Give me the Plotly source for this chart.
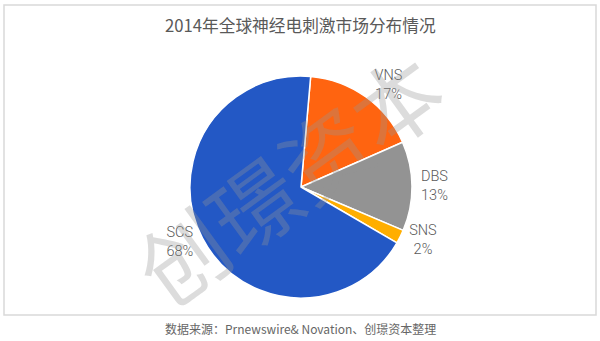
import plotly.graph_objects as go

title_text = "2014年全球神经电刺激市场分布情况"
labels = ["VNS", "DBS", "SNS", "SCS"]
values = [17, 13, 2, 68]
colors = ["#FF6410", "#939393", "#FFAE00", "#2358C5"]
source_text = "数据来源：Prnewswire& Novation、创璟资本整理"
watermark = "创璟资本"

W, H = 600, 341
cx, cy, r = 301, 187, 111

fig = go.Figure()
fig.add_trace(go.Pie(
    labels=labels, values=values, sort=False, direction="clockwise", rotation=5,
    marker=dict(colors=colors, line=dict(color="white", width=1.5)),
    textinfo="label+percent", texttemplate="%{label}<br>%{percent:.0%}",
    textposition="outside",
    textfont=dict(family="Roboto", size=14.5, color="#595959", weight=300),
    domain=dict(x=[(cx - r) / W, (cx + r) / W], y=[(H - cy - r) / H, (H - cy + r) / H]),
    showlegend=False, hoverinfo="label+percent",
))

fig.update_layout(
    width=W, height=H, margin=dict(l=0, r=0, t=0, b=0),
    paper_bgcolor="white", plot_bgcolor="white",
    shapes=[dict(type="rect", xref="paper", yref="paper",
                 x0=4 / W, x1=596 / W, y0=1 - 315 / H, y1=1 - 5 / H,
                 line=dict(color="#D9D9D9", width=1.5), layer="below")],
    annotations=[
        dict(text=title_text, x=0.5, y=1 - 25 / H, xref="paper", yref="paper",
             xanchor="center", yanchor="middle",
             showarrow=False, font=dict(family="Noto Sans CJK SC", size=16.7, color="#595959")),
        dict(text=source_text, x=0.5, y=1 - 328 / H, xref="paper", yref="paper",
             xanchor="center", yanchor="middle",
             showarrow=False, font=dict(family="Noto Sans CJK SC", size=12, color="#666666")),
        dict(text=watermark, x=287 / W, y=1 - 176 / H, xref="paper", yref="paper",
             xanchor="center", yanchor="middle",
             showarrow=False, textangle=-36,
             font=dict(family="Noto Sans CJK SC", size=88, color="rgba(150,150,150,0.33)")),
    ],
)

fig.write_html("out.html")
